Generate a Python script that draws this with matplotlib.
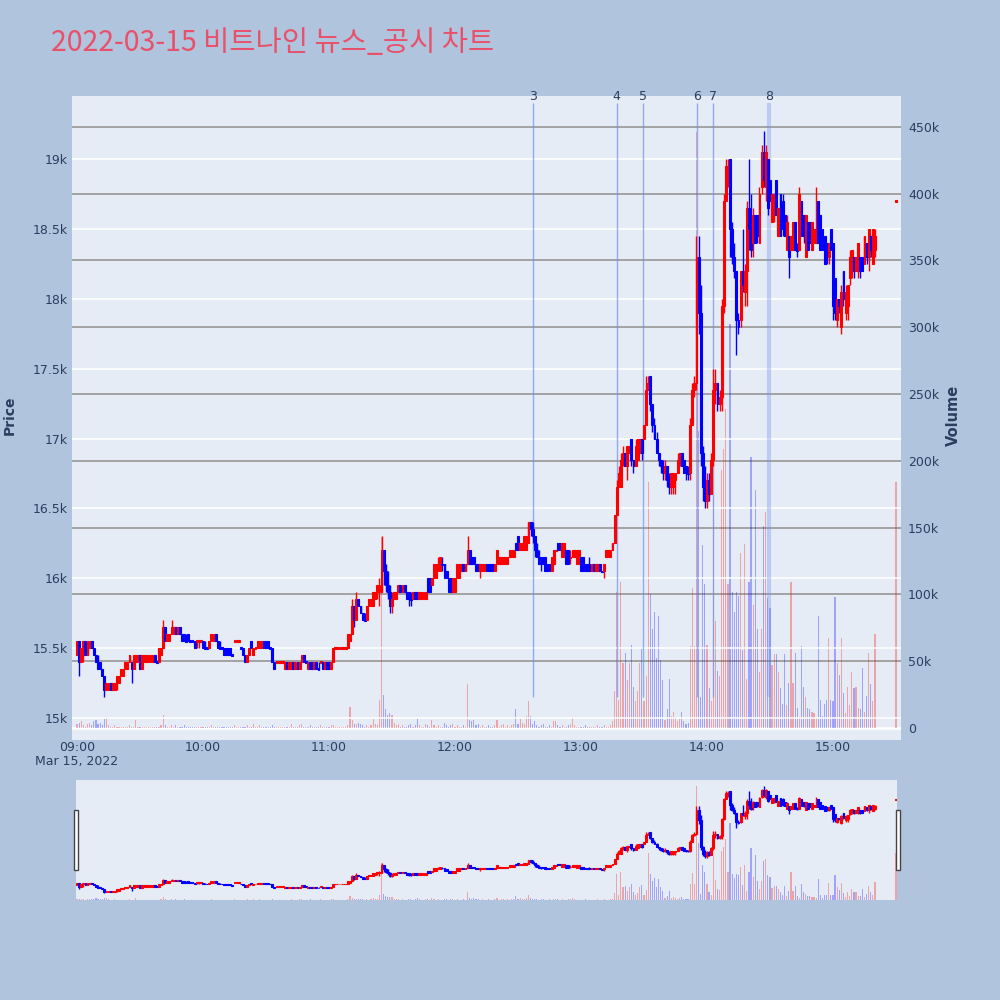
import numpy as np
import matplotlib
matplotlib.use("Agg")
import matplotlib.pyplot as plt
import matplotlib.transforms as mtransforms
from matplotlib.patches import Rectangle

plt.rcParams['font.family'] = ['DejaVu Sans', 'Noto Sans CJK KR']

# ----------------- Data -----------------
# one candle per minute, 09:00 (0) .. 15:20 (380), plus closing auction at 15:30 (390)
# prices in 50-won ticks above 15,000 won
open_t = [
    9, 11, 8, 10, 11, 9, 10, 11, 10, 9, 8, 8, 7, 6, 4, 4, 5, 4, 4, 5,
    5, 6, 6, 7, 7, 8, 8, 7, 8, 8, 9, 7, 8, 8, 8, 8, 8, 9, 8, 8,
    9, 10, 13, 11, 11, 12, 12, 13, 12, 13, 12, 12, 11, 12, 11, 11, 11, 11, 11, 11,
    11, 10, 10, 10, 11, 11, 12, 11, 10, 10, 10, 10, 10, 10, 9, 11, 11, 11, 10, 10,
    9, 8, 9, 11, 9, 10, 10, 10, 10, 11, 11, 11, 10, 10, 8, 8, 8, 8, 8, 7,
    8, 7, 7, 8, 7, 8, 7, 8, 9, 8, 7, 8, 8, 7, 8, 7, 8, 8, 7, 8,
    8, 7, 8, 10, 10, 10, 10, 10, 10, 10, 11, 12, 16, 14, 17, 16, 15, 14, 14, 16,
    16, 16, 17, 18, 18, 18, 24, 21, 19, 18, 16, 17, 17, 18, 19, 18, 19, 18, 18, 17,
    17, 18, 18, 17, 17, 17, 17, 20, 20, 19, 20, 20, 21, 21, 22, 22, 21, 20, 20, 18,
    18, 20, 20, 21, 22, 21, 22, 24, 23, 23, 22, 22, 21, 21, 21, 22, 22, 22, 22, 21,
    22, 22, 22, 22, 22, 22, 23, 23, 23, 25, 26, 24, 24, 24, 24, 25, 28, 27, 26, 24,
    23, 23, 23, 23, 22, 22, 21, 22, 24, 25, 25, 23, 23, 24, 24, 23, 23, 23, 22, 22,
    23, 23, 22, 22, 22, 21, 22, 21, 21, 22, 21, 21, 23, 23, 23, 24, 25, 29, 33, 33,
    37, 38, 36, 38, 40, 37, 36, 37, 38, 40, 40, 42, 47, 49, 45, 42, 40, 38, 37, 36,
    35, 36, 34, 33, 33, 34, 35, 37, 38, 37, 36, 35, 35, 42, 47, 48, 66, 58, 38, 33,
    31, 34, 32, 37, 47, 48, 45, 46, 59, 74, 78, 80, 70, 66, 64, 57, 57, 64, 61, 64,
    73, 71, 68, 72, 72, 68, 76, 81, 76, 80, 77, 71, 72, 77, 69, 75, 74, 72, 67, 69,
    67, 67, 71, 67, 67, 74, 72, 66, 71, 71, 67, 68, 68, 74, 72, 70, 69, 68, 66, 70,
    68, 63, 57, 60, 56, 64, 58, 59, 63, 64, 66, 64, 64, 66, 66, 65, 68, 66, 69, 65, 67,
    74,
]
high_t = [
    11, 11, 10, 11, 11, 11, 11, 11, 10, 9, 9, 8, 7, 6, 5, 5, 5, 5, 5, 6,
    6, 7, 7, 8, 8, 9, 8, 9, 9, 9, 9, 9, 9, 9, 9, 9, 9, 9, 8, 10,
    10, 14, 13, 12, 12, 14, 13, 13, 13, 13, 12, 12, 12, 12, 11, 11, 11, 11, 11, 11,
    11, 11, 10, 11, 12, 12, 12, 11, 11, 10, 10, 10, 10, 10, 9, 11, 11, 11, 10, 10,
    9, 9, 10, 11, 10, 10, 11, 11, 11, 11, 11, 11, 10, 10, 8, 8, 8, 8, 8, 8,
    8, 8, 8, 8, 8, 8, 8, 9, 9, 8, 8, 8, 8, 8, 8, 8, 8, 8, 8, 8,
    8, 8, 10, 10, 10, 10, 10, 10, 10, 12, 12, 17, 16, 18, 17, 16, 15, 15, 16, 17,
    17, 18, 18, 19, 20, 26, 24, 22, 21, 19, 18, 18, 18, 19, 19, 19, 19, 18, 18, 18,
    18, 18, 18, 18, 18, 18, 18, 20, 20, 20, 22, 22, 23, 23, 23, 22, 21, 20, 20, 20,
    20, 22, 22, 22, 22, 22, 26, 24, 23, 23, 22, 22, 22, 22, 22, 22, 22, 22, 22, 22,
    24, 23, 23, 23, 23, 23, 24, 24, 24, 25, 26, 25, 25, 26, 26, 28, 28, 28, 26, 25,
    24, 23, 23, 23, 22, 22, 23, 24, 24, 25, 25, 25, 25, 24, 24, 24, 24, 24, 24, 24,
    23, 23, 22, 22, 23, 22, 22, 22, 22, 22, 21, 22, 24, 24, 24, 25, 29, 34, 36, 38,
    39, 38, 39, 39, 40, 37, 40, 40, 40, 40, 42, 49, 49, 49, 45, 43, 41, 38, 37, 37,
    37, 36, 35, 35, 35, 35, 38, 38, 38, 37, 36, 36, 43, 48, 49, 69, 69, 62, 39, 36,
    35, 35, 38, 50, 50, 48, 47, 60, 75, 80, 80, 80, 71, 68, 64, 58, 64, 70, 65, 74,
    80, 75, 73, 72, 72, 76, 82, 84, 82, 80, 77, 75, 75, 77, 73, 75, 75, 72, 72, 69,
    69, 71, 71, 68, 76, 74, 72, 72, 71, 71, 71, 70, 76, 74, 72, 70, 69, 68, 68, 70,
    68, 63, 60, 60, 62, 64, 62, 62, 67, 67, 66, 66, 68, 66, 66, 69, 68, 70, 69, 70, 70,
    74,
]
low_t = [
    9, 6, 8, 8, 9, 9, 10, 10, 9, 8, 7, 7, 6, 3, 4, 4, 4, 4, 4, 4,
    5, 6, 6, 7, 7, 8, 5, 7, 8, 8, 7, 7, 8, 8, 8, 8, 8, 8, 8, 8,
    9, 10, 11, 11, 11, 12, 12, 12, 12, 12, 11, 11, 11, 11, 11, 11, 10, 10, 10, 11,
    10, 10, 10, 10, 11, 11, 11, 10, 10, 10, 9, 9, 9, 9, 9, 11, 11, 11, 10, 9,
    8, 8, 9, 10, 9, 10, 10, 10, 10, 10, 10, 10, 10, 8, 7, 8, 8, 8, 8, 7,
    7, 7, 7, 7, 7, 7, 7, 8, 8, 8, 7, 7, 7, 7, 7, 7, 8, 7, 7, 7,
    7, 7, 8, 10, 10, 10, 10, 10, 10, 10, 11, 12, 13, 14, 16, 15, 14, 14, 14, 16,
    16, 16, 17, 17, 16, 18, 19, 18, 17, 15, 15, 17, 17, 18, 18, 18, 18, 17, 16, 16,
    17, 17, 17, 17, 17, 17, 17, 18, 18, 19, 20, 20, 21, 21, 21, 20, 20, 18, 18, 18,
    18, 20, 20, 21, 21, 21, 22, 22, 22, 22, 21, 21, 20, 21, 21, 21, 21, 21, 21, 21,
    22, 22, 22, 22, 22, 22, 23, 23, 23, 24, 24, 24, 24, 24, 24, 25, 26, 25, 23, 23,
    22, 21, 22, 21, 21, 21, 21, 22, 24, 24, 24, 23, 23, 22, 22, 22, 23, 23, 22, 22,
    21, 21, 21, 21, 21, 21, 21, 21, 21, 21, 21, 20, 23, 23, 23, 24, 25, 29, 33, 33,
    36, 36, 34, 38, 36, 35, 36, 37, 38, 37, 40, 42, 47, 44, 41, 40, 38, 36, 35, 34,
    34, 33, 32, 32, 32, 32, 35, 36, 36, 35, 34, 34, 34, 42, 46, 47, 55, 36, 31, 30,
    30, 31, 32, 36, 45, 44, 44, 44, 58, 74, 76, 66, 65, 63, 52, 55, 56, 61, 59, 59,
    67, 66, 66, 68, 68, 68, 75, 76, 74, 72, 74, 71, 71, 72, 69, 69, 69, 69, 67, 63,
    67, 67, 67, 66, 67, 69, 68, 66, 67, 68, 67, 68, 68, 68, 67, 67, 65, 65, 65, 67,
    57, 57, 56, 58, 55, 59, 57, 57, 62, 63, 63, 64, 63, 63, 64, 65, 65, 64, 66, 65, 66,
    74,
]
close_t = [
    11, 8, 10, 11, 9, 11, 11, 10, 9, 8, 7, 7, 6, 4, 5, 5, 4, 5, 5, 6,
    6, 7, 7, 8, 8, 9, 7, 9, 9, 9, 7, 9, 9, 9, 9, 9, 9, 8, 8, 10,
    10, 13, 11, 12, 12, 13, 13, 12, 13, 12, 11, 11, 11, 11, 11, 11, 10, 11, 11, 11,
    10, 10, 10, 11, 12, 12, 11, 10, 10, 10, 9, 9, 9, 9, 9, 11, 11, 11, 10, 9,
    8, 9, 10, 10, 10, 10, 11, 11, 11, 10, 10, 10, 10, 8, 7, 8, 8, 8, 8, 8,
    7, 8, 8, 7, 8, 7, 8, 9, 8, 8, 8, 7, 7, 8, 7, 7, 8, 7, 8, 7,
    7, 8, 10, 10, 10, 10, 10, 10, 10, 12, 12, 16, 14, 17, 16, 15, 14, 14, 16, 17,
    17, 18, 18, 19, 19, 24, 21, 19, 18, 16, 17, 18, 18, 19, 18, 19, 18, 17, 17, 17,
    18, 17, 17, 18, 18, 18, 18, 18, 18, 20, 22, 22, 22, 23, 22, 20, 20, 18, 18, 20,
    20, 22, 22, 22, 21, 22, 24, 22, 22, 22, 21, 21, 22, 22, 22, 21, 21, 21, 21, 22,
    24, 23, 23, 23, 23, 23, 24, 24, 24, 24, 24, 25, 25, 26, 26, 28, 27, 26, 24, 23,
    22, 22, 22, 21, 21, 21, 23, 24, 24, 24, 24, 25, 25, 22, 22, 23, 24, 24, 24, 24,
    21, 21, 21, 21, 21, 22, 21, 22, 22, 21, 21, 22, 24, 24, 24, 25, 29, 33, 35, 37,
    38, 36, 39, 39, 37, 36, 39, 40, 40, 38, 42, 47, 48, 45, 42, 40, 38, 37, 36, 35,
    36, 34, 33, 35, 35, 35, 37, 38, 36, 35, 35, 35, 42, 47, 48, 66, 58, 38, 33, 31,
    34, 32, 37, 47, 48, 45, 46, 59, 74, 79, 79, 70, 66, 64, 57, 56, 64, 62, 64, 73,
    70, 67, 72, 68, 69, 75, 81, 77, 81, 73, 74, 75, 75, 72, 73, 69, 70, 69, 71, 66,
    69, 71, 67, 67, 75, 69, 69, 72, 67, 68, 71, 70, 70, 68, 67, 67, 65, 66, 68, 67,
    59, 58, 60, 59, 61, 60, 61, 62, 66, 67, 64, 66, 68, 64, 64, 69, 66, 70, 67, 70, 69,
    74,
]
# volume in thousands of shares
volume_k = [
    3, 4, 5, 2, 1, 3, 4, 2, 5, 6, 3, 4, 2, 7, 8, 2, 1, 1, 2, 1,
    1, 1, 0.5, 1, 1, 2, 1, 1, 6, 1, 1, 1, 0.5, 1, 1, 0.5, 1, 1, 0.5, 1,
    2, 10, 2, 1, 1, 2, 1, 2, 1, 1, 1, 2, 1, 0.5, 1, 1, 0.5, 1, 1, 1,
    1, 0.5, 1, 1, 2, 1, 1, 0.5, 1, 1, 1, 1, 0.5, 1, 1, 2, 1, 1, 1, 0.5,
    1, 2, 1, 1, 3, 1, 1, 2, 1, 1, 0.5, 1, 1, 2, 1, 1, 0.5, 1, 1, 1,
    1, 1, 3, 1, 1, 1, 2, 3, 1, 1, 1, 2, 1, 1, 1, 1, 2, 1, 1, 1,
    1, 2, 2, 1, 1, 0.5, 1, 1, 1, 2, 16, 6, 3, 3, 4, 3, 2, 1, 2, 1,
    2, 7, 3, 2, 21, 143, 25, 14, 10, 11, 10, 4, 2, 3, 1, 2, 1, 1, 2, 3,
    1, 2, 7, 2, 1, 1, 3, 2, 1, 6, 2, 1, 2, 1, 1, 4, 2, 1, 2, 3,
    1, 2, 1, 1, 2, 1, 33, 6, 5, 6, 2, 3, 1, 2, 1, 1, 2, 1, 1, 2,
    6, 1, 2, 3, 1, 2, 1, 2, 3, 14, 3, 7, 4, 3, 9, 20, 9, 3, 5, 2,
    1, 2, 3, 1, 1, 2, 1, 5.5, 5, 2, 1, 2, 1, 1, 2, 3, 8.5, 2, 1, 1,
    1, 1, 2, 1, 1, 0.5, 1, 1, 2, 1, 1, 2, 1, 1, 2, 5, 28, 102, 21, 109,
    49, 56, 36, 49, 62, 31, 20, 28, 49, 59, 20, 39, 184, 100, 74, 87, 52, 84, 51, 36,
    6, 14, 37, 9, 12, 8, 5, 7, 12, 5, 3, 4, 61, 105, 61, 446, 222, 23, 137, 108,
    62, 30, 20, 173, 80, 43, 39, 193, 209, 239, 108, 302, 102, 87, 102, 99, 131, 58, 138, 37,
    109, 203, 92, 178, 74, 42, 74, 151, 162, 97, 90, 47, 55, 55, 42, 30, 18, 55, 17, 34,
    109, 34, 56, 15, 8, 61, 31, 23, 15, 14, 12, 11, 8, 84, 21, 9, 18, 21, 67, 21,
    20, 98, 49, 40, 67, 26, 11, 31, 17, 42, 30, 31, 15, 14, 45, 12, 24, 56, 33, 20, 70,
    184,
]
# news / disclosure events (minutes after 09:00)
event_labels = ['3', '4', '5', '6', '7', '8']
event_minutes = [217, 257, 269.5, 295.2, 302.9, 329.5]

hour_ticks = [0, 60, 120, 180, 240, 300, 360]
hour_labels = ['09:00', '10:00', '11:00', '12:00', '13:00', '14:00', '15:00']
price_ticks = [15000, 15500, 16000, 16500, 17000, 17500, 18000, 18500, 19000]
price_labels = ['15k', '15.5k', '16k', '16.5k', '17k', '17.5k', '18k', '18.5k', '19k']
vol_ticks = [0, 50000, 100000, 150000, 200000, 250000, 300000, 350000, 400000, 450000]
vol_labels = ['0', '50k', '100k', '150k', '200k', '250k', '300k', '350k', '400k', '450k']

title = '2022-03-15 비트나인 뉴스_공시 차트'

# ----------------- Prepare -----------------
x = np.r_[np.arange(381), 390]
o = 15000 + 50 * np.array(open_t, dtype=float)
h = 15000 + 50 * np.array(high_t, dtype=float)
l = 15000 + 50 * np.array(low_t, dtype=float)
c = 15000 + 50 * np.array(close_t, dtype=float)
vol = np.array(volume_k) * 1000

# direction like plotly: flat candles follow the previous close / previous direction
up = np.zeros(len(c), dtype=bool)
for i in range(len(c)):
    if c[i] > o[i]:
        up[i] = True
    elif c[i] < o[i]:
        up[i] = False
    elif i > 0 and c[i] != c[i - 1]:
        up[i] = c[i] > c[i - 1]
    else:
        up[i] = up[i - 1] if i > 0 else True

INC, DEC = '#ff0000', '#0000ff'
colors = np.where(up, INC, DEC)
TXT = '#2a3f5f'
PLOT_BG = '#e5ecf6'
PAPER_BG = '#b0c4de'


def draw_candles(ax, body_w, wick_lw, edge_lw, min_h):
    ax.vlines(x, l, h, colors=colors, lw=wick_lw, zorder=3)
    diff = np.abs(c - o)
    hh = np.maximum(diff, min_h)
    bottom = np.minimum(o, c) - (hh - diff) / 2
    ax.bar(x, hh, width=body_w, bottom=bottom, color=colors, edgecolor=colors,
           lw=edge_lw, zorder=4)


# ----------------- Plot -----------------
fig = plt.figure(figsize=(10, 10), dpi=100, facecolor=PAPER_BG)

ax_vol = fig.add_axes([0.072, 0.260, 0.829, 0.644], facecolor=PLOT_BG)
ax = ax_vol.twinx()
ax.patch.set_visible(False)

# volume (right axis, drawn underneath)
ax_vol.bar(x, vol, width=0.55, color=colors, alpha=0.3, lw=0, zorder=2)
for v in vol_ticks[1:]:
    ax_vol.axhline(v, color='#a3a3a3', lw=1.4, zorder=1)
ax_vol.axhline(0, color='white', lw=1.8, zorder=1)
ax_vol.set_ylim(-9000, 473000)
ax_vol.set_yticks(vol_ticks)
ax_vol.set_yticklabels(vol_labels)
ax_vol.yaxis.tick_right()
ax_vol.set_xlim(-2.4, 392.4)
ax_vol.set_xticks(hour_ticks)
ax_vol.set_xticklabels(hour_labels)
ax_vol.tick_params(axis='y', length=0, pad=5, labelsize=9, colors=TXT)
ax_vol.tick_params(axis='x', length=0, pad=1, labelsize=9, colors=TXT)

# price (left axis)
for p in price_ticks:
    ax.axhline(p, color='white', lw=1.1, zorder=1)
draw_candles(ax, body_w=0.9, wick_lw=1.0, edge_lw=0.8, min_h=10)
ax.set_ylim(14843, 19451)
ax.set_yticks(price_ticks)
ax.set_yticklabels(price_labels)
ax.yaxis.tick_left()
ax.tick_params(axis='y', length=0, pad=3, labelsize=9, colors=TXT)

# event lines
blend = mtransforms.blended_transform_factory(ax.transData, ax.transAxes)
for lab, em in zip(event_labels, event_minutes):
    wide = lab == '8'
    ax.vlines(em, 15150, 19400, color='#6f8ff0', lw=3.0 if wide else 1.0,
              alpha=0.35 if wide else 0.7, zorder=2)
    ax.text(em, 1.0, lab, transform=blend, ha='center', va='center',
            fontsize=9, color=TXT, clip_on=False)

for a in (ax, ax_vol):
    for s in a.spines.values():
        s.set_visible(False)

fig.text(0.077, 0.2445, 'Mar 15, 2022', ha='center', va='top', fontsize=9, color=TXT)
fig.text(0.010, 0.585, 'Price', rotation=90, ha='center', va='center',
         fontsize=10, fontweight='bold', color=TXT)
fig.text(0.953, 0.585, 'Volume', rotation=90, ha='center', va='center',
         fontsize=10.5, fontweight='bold', color=TXT)
fig.text(0.051, 0.949, title, fontsize=20.5, color='#e9506a', va='baseline',
         family=['Noto Sans CJK KR', 'DejaVu Sans'])

# ----------------- Range slider -----------------
sl_vol = fig.add_axes([0.076, 0.100, 0.821, 0.120], facecolor=PLOT_BG)
sl = sl_vol.twinx()
sl.patch.set_visible(False)
sl_vol.bar(x, vol, width=0.55, color=colors, alpha=0.3, lw=0)
sl_vol.set_ylim(0, 470000)
draw_candles(sl, body_w=0.9, wick_lw=1.0, edge_lw=0.8, min_h=20)
sl.set_ylim(14897, 19427)
for a in (sl, sl_vol):
    a.set_xlim(-0.5, 390.5)
    a.set_xticks([])
    a.set_yticks([])
    for s in a.spines.values():
        s.set_visible(False)

for hx in (0.0735, 0.8955):
    fig.patches.append(Rectangle((hx, 0.130), 0.0045, 0.060, transform=fig.transFigure,
                                 facecolor='white', edgecolor='#444444', lw=1.0))

plt.savefig('out.png', dpi=100, facecolor=PAPER_BG)
print("saved out.png")
